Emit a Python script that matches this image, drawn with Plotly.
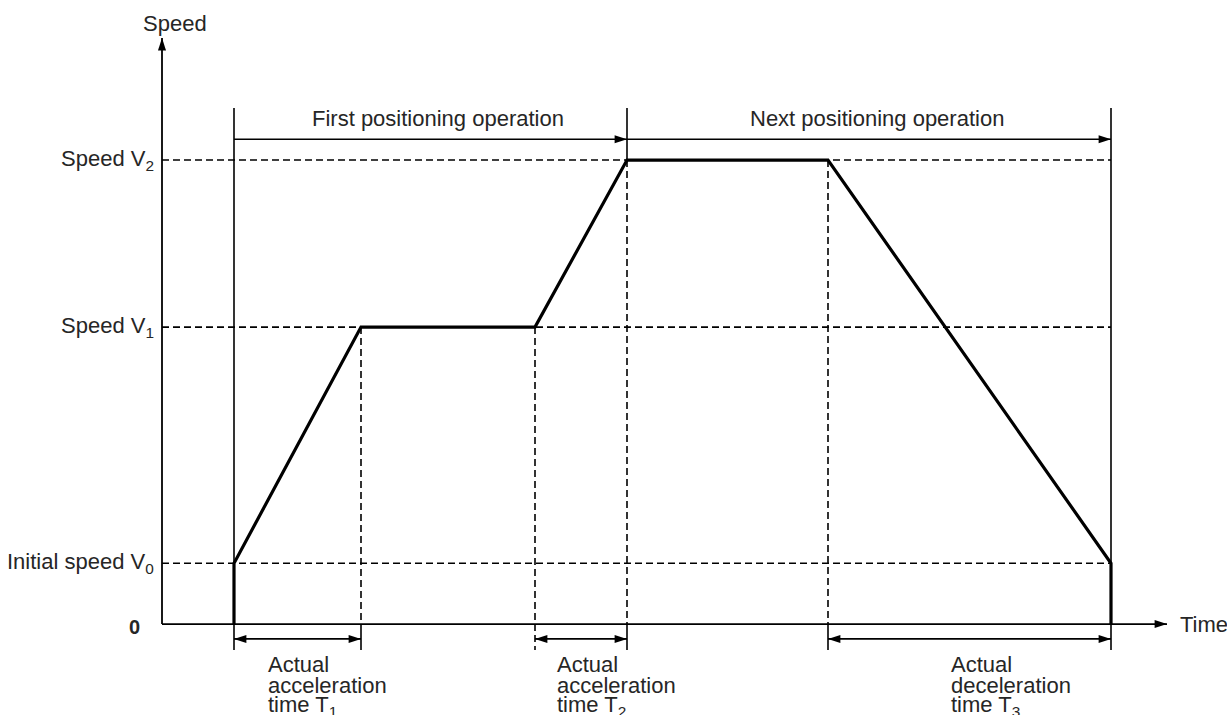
import plotly.graph_objects as go

# time instants (arbitrary units) where the speed profile changes
times = [0.0, 1.27, 3.01, 3.93, 5.94, 8.77]
# speed levels (percent of V2)
v0, v1, v2 = 13.1, 64.0, 100.0
levels = [v0, v1, v2]
level_labels = ["Initial speed V<sub>0</sub>", "Speed V<sub>1</sub>", "Speed V<sub>2</sub>"]

# trapezoid profile
prof_t = [times[0], times[0], times[1], times[2], times[3], times[4], times[5], times[5]]
prof_v = [0, v0, v1, v1, v2, v2, v0, 0]

# positioning operations along the top
ops = ["First positioning operation", "Next positioning operation"]
op_spans = [(times[0], times[3]), (times[3], times[5])]

# measured times along the bottom
spans = [(times[0], times[1]), (times[2], times[3]), (times[4], times[5])]
span_labels = [
    ["Actual", "acceleration", "time T<sub>1</sub>"],
    ["Actual", "acceleration", "time T<sub>2</sub>"],
    ["Actual", "deceleration", "time T<sub>3</sub>"],
]

# drawing geometry (data units)
AX_X = -0.72      # vertical axis position
X_END = 9.33      # tip of time axis
Y_END = 126.3     # tip of speed axis
TOP = 111.2       # top of the operation brackets
OP_Y = 104.5      # operation arrows
LOW = -5.6        # bottom of ticks under the time axis
SPAN_Y = -3.2     # measured-time arrows

FONT = "Liberation Sans, Arial, sans-serif"
TXT = "#262626"

fig = go.Figure()


def seg(x0, y0, x1, y1, dash=None, w=1.6):
    fig.add_shape(type="line", x0=x0, y0=y0, x1=x1, y1=y1, layer="below",
                  line=dict(color="black", width=w, dash=dash or "solid"))


DASH = "7px,4px"

# guide lines at each speed level
for lv in levels:
    seg(AX_X, lv, times[5], lv, DASH)

# vertical guides
seg(times[0], TOP, times[0], LOW)
seg(times[5], TOP, times[5], LOW)
seg(times[3], TOP, times[3], v2)
seg(times[3], v2, times[3], 0, DASH)
seg(times[3], 0, times[3], LOW)
seg(times[1], v1, times[1], 0, DASH)
seg(times[1], 0, times[1], LOW)
seg(times[2], v1, times[2], LOW, DASH)
seg(times[4], v2, times[4], 0, DASH)
seg(times[4], 0, times[4], LOW)

# axes
seg(AX_X, 0, X_END, 0, w=1.8)
seg(AX_X, 0, AX_X, Y_END, w=1.8)

# operation arrows and measured-time arrows
heads_x, heads_y, heads_a = [X_END, AX_X], [0, Y_END], [90, 0]
for a, b in op_spans:
    seg(a, OP_Y, b, OP_Y)
    heads_x.append(b); heads_y.append(OP_Y); heads_a.append(90)
for a, b in spans:
    seg(a, SPAN_Y, b, SPAN_Y)
    heads_x += [a, b]; heads_y += [SPAN_Y, SPAN_Y]; heads_a += [270, 90]

# speed profile
fig.add_trace(go.Scatter(x=prof_t, y=prof_v, mode="lines",
                         line=dict(color="black", width=3.2), hoverinfo="skip"))

fig.add_trace(go.Scatter(x=heads_x, y=heads_y, mode="markers", hoverinfo="skip",
                         marker=dict(symbol="arrow", size=13, angle=heads_a,
                                     color="black", line=dict(width=0))))

# text
def label(x, y, text, xanchor="center", size=22, **kw):
    fig.add_annotation(x=x, y=y, text=text, showarrow=False, xanchor=xanchor,
                       yanchor="middle", font=dict(family=FONT, size=size, color=TXT), **kw)


for lv, t in zip(levels, level_labels):
    label(-0.78, lv, t, xanchor="right")
label(-1.0, -0.7, "<b>0</b>", size=20)
label(-0.59, 129.5, "Speed")
label(9.44, 0, "Time", xanchor="left")
label(2.04, 109.0, ops[0])
label(6.43, 109.0, ops[1])

line_y = [-8.7, -13.3, -17.6]
for (a, b), lines, dx in zip(spans, span_labels, [0.32, 0.2, 1.21]):
    for ly, txt in zip(line_y, lines):
        label(a + dx, ly, txt, xanchor="left")

fig.update_layout(
    width=1227, height=715,
    margin=dict(l=0, r=0, t=0, b=0),
    paper_bgcolor="white", plot_bgcolor="white",
    showlegend=False,
    xaxis=dict(range=[-2.34, 9.93], visible=False, fixedrange=True),
    yaxis=dict(range=[-19.6, 134.5], visible=False, fixedrange=True),
)

# drop the page's default body margin so the figure fills the window
fig.write_html("out.html", config={"displayModeBar": False},
               post_script="document.body.style.margin='0';"
                           "document.body.style.overflow='hidden';")
